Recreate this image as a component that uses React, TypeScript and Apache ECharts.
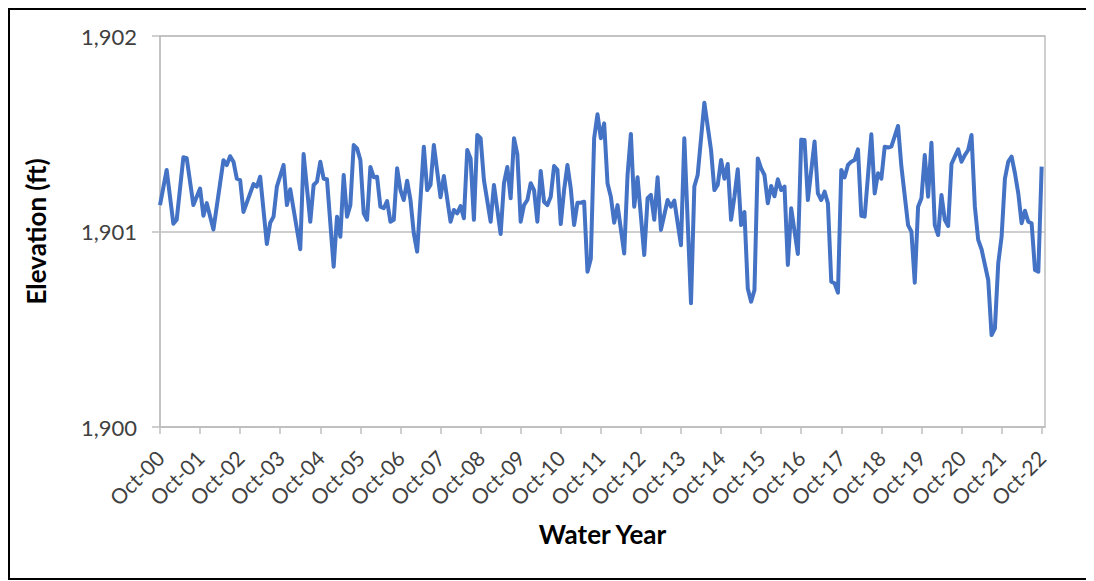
import React, { useEffect, useRef } from "react";
import * as echarts from "echarts";

// months since Oct-2000
const months = [0,2,4,5,7,8,10,12,13,14,
16,19,20,21,22,23,24,25,28,29,
30,32,33,34,35,37,38,39,42,43,
45,46,47,48,49,50,52,53,54,55,
56,57,58,59,60,61,62,63,64,65,
66,67,68,69,70,71,72,73,74,75,
76,77,79,80,81,82,84,85,87,88,
89,90,91,92,93,94,95,96,97,99,
100,102,103,104,105,106,107,108,109,110,
111,112,113,114,115,116,117,118,119,120,
121,122,123,124,125,126,127,128,129,130,
131,132,133,134,135,136,137,139,140,141,
142,143,145,146,147,148,149,150,152,153,
154,156,157,159,160,161,163,165,166,167,
168,169,170,171,172,173,174,175,176,177,
178,179,180,181,182,183,184,185,186,187,
188,189,191,192,193,194,196,197,198,199,
200,201,202,203,204,205,206,207,208,209,
210,211,213,214,215,216,217,218,219,221,
222,224,225,226,227,228,229,230,231,232,
233,234,235,236,237,238,239,240,241,242,
243,244,245,246,248,249,250,251,252,253,
254,255,256,257,258,259,260,261,262,263,
264];

const elevations = [1901.135,1901.315,1901.04,1901.06,1901.38,1901.375,1901.135,1901.22,1901.08,1901.145,
1901.01,1901.365,1901.34,1901.385,1901.357,1901.27,1901.263,1901.10,1901.243,1901.23,
1901.28,1900.936,1901.045,1901.076,1901.23,1901.34,1901.135,1901.216,1900.909,1901.396,
1901.05,1901.238,1901.255,1901.357,1901.27,1901.267,1900.82,1901.076,1900.973,1901.289,
1901.076,1901.135,1901.442,1901.425,1901.366,1901.093,1901.06,1901.33,1901.278,1901.28,
1901.127,1901.119,1901.156,1901.05,1901.06,1901.323,1901.212,1901.161,1901.26,1901.161,
1900.99,1900.897,1901.434,1901.212,1901.238,1901.442,1901.175,1901.284,1901.05,1901.11,
1901.093,1901.13,1901.068,1901.417,1901.374,1901.06,1901.494,1901.477,1901.263,1901.05,
1901.238,1900.987,1901.247,1901.33,1901.17,1901.477,1901.396,1901.05,1901.135,1901.161,
1901.247,1901.212,1901.05,1901.31,1901.152,1901.135,1901.178,1901.335,1901.315,1901.038,
1901.212,1901.34,1901.22,1901.033,1901.147,1901.147,1901.152,1900.794,1900.86,1901.477,
1901.6,1901.477,1901.553,1901.247,1901.178,1901.045,1901.135,1900.888,1901.289,1901.499,
1901.127,1901.277,1900.88,1901.17,1901.187,1901.06,1901.277,1901.008,1901.161,1901.127,
1901.158,1900.93,1901.477,1900.633,1901.23,1901.289,1901.659,1901.417,1901.212,1901.238,
1901.366,1901.27,1901.345,1901.06,1901.178,1901.318,1901.033,1901.10,1900.709,1900.641,
1900.70,1901.374,1901.323,1901.289,1901.144,1901.233,1901.18,1901.267,1901.212,1901.23,
1900.829,1901.119,1900.885,1901.47,1901.468,1901.161,1901.46,1901.195,1901.161,1901.204,
1901.144,1900.743,1900.735,1900.687,1901.315,1901.277,1901.34,1901.357,1901.366,1901.42,
1901.08,1901.076,1901.497,1901.195,1901.298,1901.27,1901.434,1901.43,1901.434,1901.54,
1901.332,1901.033,1900.999,1900.738,1901.127,1901.17,1901.391,1901.178,1901.454,1901.033,
1900.982,1901.187,1901.06,1901.028,1901.345,1901.383,1901.42,1901.357,1901.391,1901.417,
1901.494,1901.127,1900.957,1900.909,1900.752,1900.47,1900.505,1900.837,1900.973,1901.27,
1901.357,1901.383,1901.298,1901.195,1901.042,1901.106,1901.05,1901.042,1900.803,1900.794,
1901.332];

const xTickLabels = ["Oct-00","Oct-01","Oct-02","Oct-03","Oct-04","Oct-05","Oct-06","Oct-07","Oct-08","Oct-09","Oct-10","Oct-11","Oct-12","Oct-13","Oct-14","Oct-15","Oct-16","Oct-17","Oct-18","Oct-19","Oct-20","Oct-21","Oct-22"];
const yTicks = [1900, 1901, 1902];

const FONT = "Lato, 'Open Sans', sans-serif";

export default function App() {
  const ref = useRef<HTMLDivElement>(null);
  useEffect(() => {
    if (!ref.current) return;
    const chart = echarts.init(ref.current, null, { renderer: "svg" });
    const data = months.map((m, i) => [m, elevations[i]]);
    chart.setOption({
      animation: false,
      backgroundColor: "#ffffff",
      grid: {
        left: 152,
        top: 28,
        right: 43,
        height: 391,
        show: true,
        borderColor: "#bfbfbf",
        borderWidth: 1.5,
        containLabel: false,
      },
      xAxis: {
        type: "value",
        min: 0,
        max: 265,
        interval: 12,
        name: "Water Year",
        nameLocation: "middle",
        nameGap: 94,
        nameTextStyle: { fontFamily: FONT, fontSize: 26, fontWeight: "bold", color: "#000" },
        axisLine: { show: true, lineStyle: { color: "#bfbfbf", width: 1.5 } },
        axisTick: { show: true, length: 7, lineStyle: { color: "#bfbfbf", width: 1.5 } },
        splitLine: { show: false },
        axisLabel: {
          rotate: 45,
          margin: 27,
          showMaxLabel: false,
          fontFamily: FONT,
          fontSize: 21,
          color: "#404040",
          formatter: (v: number) => (v % 12 === 0 ? xTickLabels[v / 12] ?? "" : ""),
        },
      },
      yAxis: {
        type: "value",
        min: yTicks[0],
        max: yTicks[yTicks.length - 1],
        interval: 1,
        name: "Elevation (ft)",
        nameLocation: "middle",
        nameGap: 111,
        nameRotate: 90,
        nameTextStyle: { fontFamily: FONT, fontSize: 26, fontWeight: "bold", color: "#000" },
        axisLine: { show: true, lineStyle: { color: "#bfbfbf", width: 1.5 } },
        axisTick: { show: true, length: 8, lineStyle: { color: "#bfbfbf", width: 1.5 } },
        splitLine: { show: true, lineStyle: { color: "#bfbfbf", width: 1.5 } },
        axisLabel: {
          margin: 23,
          fontFamily: FONT,
          fontSize: 22,
          color: "#404040",
          formatter: (v: number) => v.toLocaleString("en-US"),
        },
      },
      series: [
        {
          type: "line",
          data,
          showSymbol: false,
          symbol: "none",
          lineStyle: { color: "#4472C4", width: 4, join: "round" },
        },
      ],
    });
    return () => chart.dispose();
  }, []);
  return (
    <div style={{ position: "relative", width: 1080, height: 572 }}>
      <div ref={ref} style={{ position: "absolute", left: 0, top: 0, width: 1080, height: 572 }} />
      <div
        style={{
          position: "absolute",
          left: 0,
          top: 0,
          width: 1080,
          height: 572,
          border: "2px solid #000",
          boxSizing: "border-box",
          pointerEvents: "none",
        }}
      />
    </div>
  );
}
